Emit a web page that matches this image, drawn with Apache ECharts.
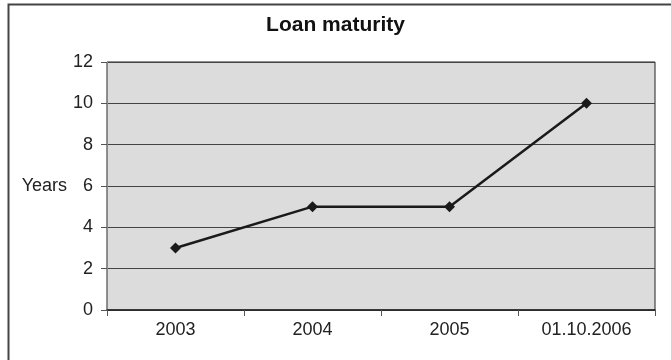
<!DOCTYPE html>
<html><head><meta charset="utf-8">
<script src="https://cdn.jsdelivr.net/npm/echarts@6/dist/echarts.min.js"></script>
<style>html,body{margin:0;padding:0;background:#fff}#c{width:671px;height:360px}</style>
</head><body><div id="c"></div>
<script>
const categories = ['2003', '2004', '2005', '01.10.2006'];
const values = [3, 5, 5, 10];
const titleText = 'Loan maturity';
const yName = 'Years';
const FONT = '"Liberation Sans", Arial, Helvetica';

const chart = echarts.init(document.getElementById('c'), null, {renderer: 'canvas'});
chart.setOption({
  animation: false,
  backgroundColor: '#fff',
  title: {
    text: titleText, left: 'center', top: 10,
    textStyle: {fontFamily: FONT, fontWeight: 'bold', fontSize: 21, color: '#111'}
  },
  graphic: [{
    type: 'rect', shape: {x: 8.5, y: 4.5, width: 700, height: 400},
    style: {fill: null, stroke: '#444', lineWidth: 2}, silent: true
  }],
  grid: {
    left: 107, right: 16, top: 62, bottom: 50,
    show: true, backgroundColor: '#dcdcdc', borderColor: '#222', borderWidth: 1
  },
  xAxis: {
    type: 'category', data: categories, boundaryGap: true,
    axisLine: {lineStyle: {color: '#222', width: 1.5}},
    axisTick: {show: true, length: 6, lineStyle: {color: '#555'}},
    axisLabel: {fontFamily: FONT, fontSize: 18, color: '#222', margin: 11},
    splitLine: {show: false}
  },
  yAxis: {
    type: 'value', min: 0, max: 12, interval: 2,
    name: yName, nameLocation: 'middle', nameRotate: 0, nameGap: 39,
    nameTextStyle: {fontFamily: FONT, fontSize: 18, color: '#222'},
    axisLine: {show: true, lineStyle: {color: '#888'}},
    axisTick: {show: true, length: 6, lineStyle: {color: '#555'}},
    axisLabel: {fontFamily: FONT, fontSize: 18, color: '#222', margin: 14},
    splitLine: {show: true, lineStyle: {color: '#444', width: 1}}
  },
  series: [{
    type: 'line', data: values,
    symbol: 'diamond', symbolSize: 11,
    lineStyle: {color: '#1a1a1a', width: 2.5},
    itemStyle: {color: '#1a1a1a'}
  }]
});
</script></body></html>
